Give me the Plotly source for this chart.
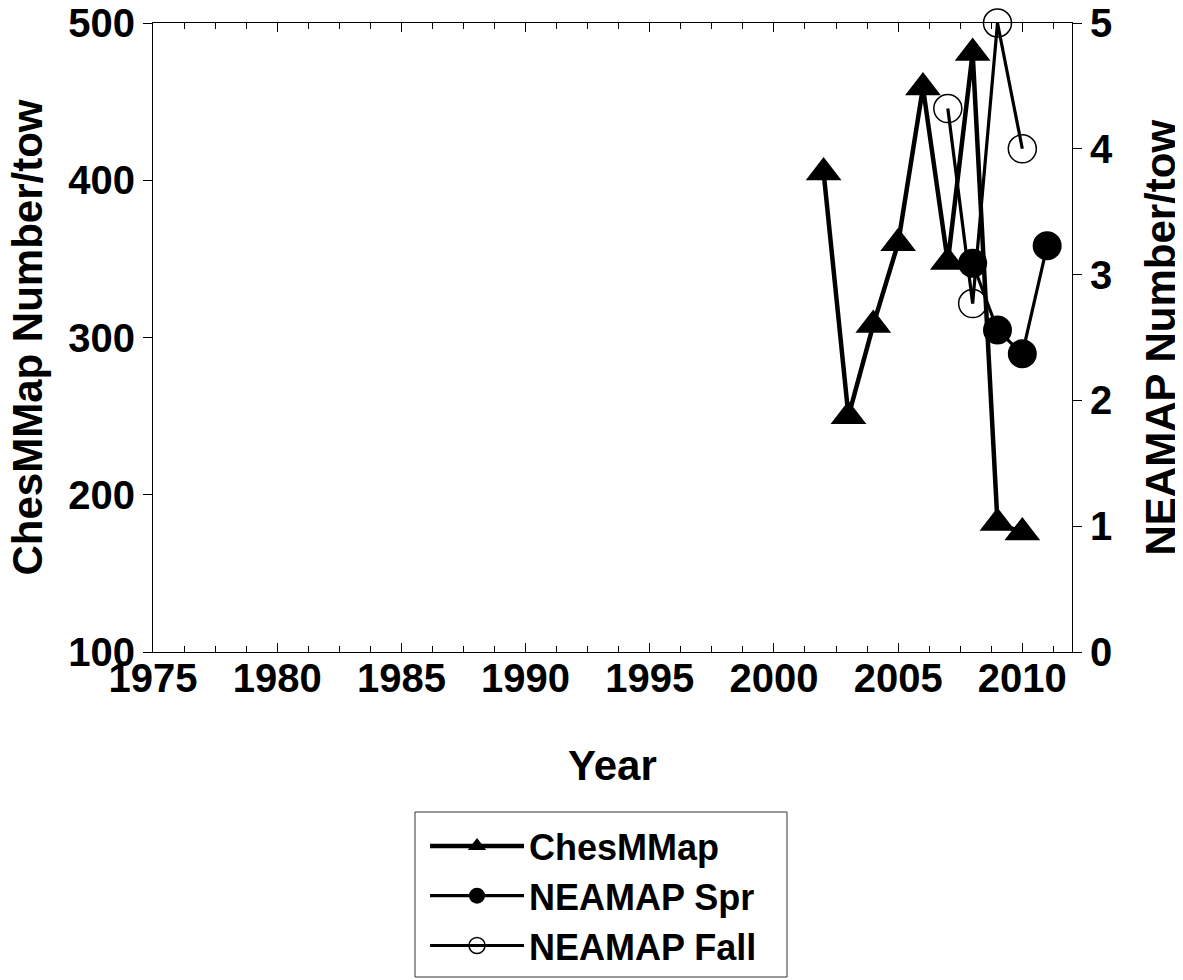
import plotly.graph_objects as go

# Data
ches_years = [2002, 2003, 2004, 2005, 2006, 2007, 2008, 2009, 2010]
ches_vals = [405, 250, 308, 360, 459, 348, 481, 182, 176]

spr_years = [2008, 2009, 2010, 2011]
spr_vals = [3.09, 2.56, 2.37, 3.23]

fall_years = [2007, 2008, 2009, 2010]
fall_vals = [4.32, 2.77, 5.0, 4.0]

x_ticks = [1975, 1980, 1985, 1990, 1995, 2000, 2005, 2010]
y_ticks = [100, 200, 300, 400, 500]
y2_ticks = [0, 1, 2, 3, 4, 5]

FONT = "Liberation Sans, Arial, sans-serif"
OFF = 8                       # page body margin
W, H = 1183 - OFF, 980 - OFF  # figure size
# plot area in page pixels
PX0, PX1, PY0, PY1 = 153, 1072, 23, 652
L, T = PX0 - OFF, PY0 - OFF
R, B = W - (PX1 - OFF), H - (PY1 - OFF)
PW, PH = PX1 - PX0, PY1 - PY0


def paper_x(page_x):
    return (page_x - PX0) / PW


def paper_y(page_y):
    return (PY1 - page_y) / PH


fig = go.Figure()
fig.add_trace(go.Scatter(
    x=ches_years, y=ches_vals, name="ChesMMap", mode="lines+markers",
    line=dict(color="black", width=4.5),
    marker=dict(symbol="triangle-up", size=31, color="black"),
    cliponaxis=False, yaxis="y"))
fig.add_trace(go.Scatter(
    x=spr_years, y=spr_vals, name="NEAMAP Spr", mode="lines+markers",
    line=dict(color="black", width=3.2),
    marker=dict(symbol="circle", size=29, color="black"),
    cliponaxis=False, yaxis="y2"))
fig.add_trace(go.Scatter(
    x=fall_years, y=fall_vals, name="NEAMAP Fall", mode="lines+markers",
    line=dict(color="black", width=3.2),
    marker=dict(symbol="circle-open", size=28, color="black",
                line=dict(width=1.5, color="black")),
    cliponaxis=False, yaxis="y2"))

axis_font = dict(family=FONT, size=40, color="black", weight="bold")
title_font = dict(family=FONT, size=42, color="black", weight="bold")

annotations = [
    dict(text="Year", xref="paper", yref="paper", x=0.5, y=paper_y(765),
         xanchor="center", yanchor="middle", showarrow=False, font=title_font),
    dict(text="ChesMMap Number/tow", xref="paper", yref="paper",
         x=paper_x(27), y=0.5, textangle=-90,
         xanchor="center", yanchor="middle", showarrow=False, font=title_font),
    dict(text="NEAMAP Number/tow", xref="paper", yref="paper",
         x=paper_x(1160), y=0.5, textangle=-90,
         xanchor="center", yanchor="middle", showarrow=False, font=title_font),
]

legend_box = dict(
    type="rect", xref="paper", yref="paper",
    x0=paper_x(415), x1=paper_x(787), y0=paper_y(977), y1=paper_y(812),
    line=dict(color="#333333", width=1), fillcolor="rgba(0,0,0,0)", layer="above")

fig.update_layout(
    width=W, height=H,
    margin=dict(l=L, r=R, t=T, b=B, autoexpand=False),
    paper_bgcolor="white", plot_bgcolor="white",
    showlegend=True,
    annotations=annotations,
    shapes=[legend_box],
    xaxis=dict(
        range=[1975, 2012], tickvals=x_ticks, ticktext=[str(v) for v in x_ticks],
        tickangle=0, ticklabelstandoff=-9, ticklabeloverflow="allow",
        ticks="inside", ticklen=9, tickwidth=1, tickcolor="black",
        minor=dict(dtick=1.25, tick0=1975, ticks="inside", ticklen=6,
                   tickwidth=1, tickcolor="black", showgrid=False),
        showline=True, linecolor="black", linewidth=1, mirror="ticks",
        showgrid=False, zeroline=False, tickfont=axis_font),
    yaxis=dict(
        range=[100, 500], tickvals=y_ticks, ticklabeloverflow="allow",
        ticks="outside", ticklen=9, tickwidth=1, tickcolor="black",
        showline=True, linecolor="black", linewidth=1,
        showgrid=False, zeroline=False, tickfont=axis_font),
    yaxis2=dict(
        range=[0, 5], tickvals=y2_ticks, overlaying="y", side="right",
        ticklabeloverflow="allow",
        ticks="outside", ticklen=9, tickwidth=1, tickcolor="black",
        showline=True, linecolor="black", linewidth=1,
        showgrid=False, zeroline=False, tickfont=axis_font),
    legend=dict(
        xref="container", yref="container",
        x=(425 - OFF) / W, y=1 - (816 - OFF) / H, xanchor="left", yanchor="top",
        borderwidth=0, bgcolor="rgba(0,0,0,0)",
        font=dict(family=FONT, size=36, color="black", weight="bold"),
        itemwidth=94, tracegroupgap=0,
    ),
)

fig.write_html("out.html")
